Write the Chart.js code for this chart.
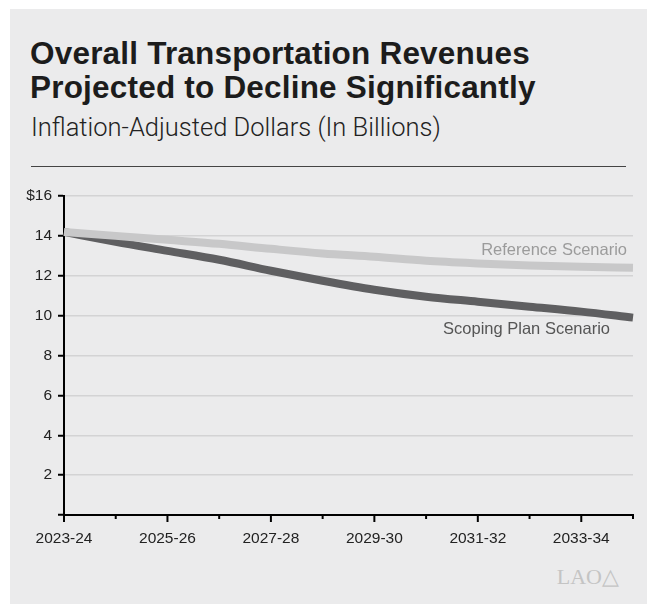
<!DOCTYPE html>
<html lang="en">
<head>
    <meta charset="UTF-8">
    <title>Overall Transportation Revenues</title>
    <style>
        body {
            margin: 0;
            background-color: #fff;
            font-family: 'Liberation Sans', Arial, sans-serif;
        }
        .panel {
            position: absolute;
            left: 10px;
            top: 9px;
            width: 637px;
            height: 595px;
            background-color: #ebebec;
        }
        .title {
            position: absolute;
            left: 20px;
            top: 27px;
            margin: 0;
            font-size: 31.5px;
            font-weight: 700;
            line-height: 34px;
            color: #1c1c1c;
            letter-spacing: 0.2px;
        }
        .subtitle {
            position: absolute;
            left: 21px;
            top: 103px;
            margin: 0;
            font-family: Roboto, 'Liberation Sans', sans-serif;
            font-weight: 300;
            font-size: 25.5px;
            color: #222;
        }
        .rule {
            position: absolute;
            left: 21px;
            top: 157px;
            width: 595px;
            height: 1px;
            background-color: #444;
        }
        .chart-box {
            position: absolute;
            left: 0;
            top: 171px;
            width: 637px;
            height: 380px;
        }
        .logo {
            position: absolute;
            right: 28px;
            bottom: 14px;
            font-family: 'Liberation Serif', serif;
            font-size: 22px;
            color: #c4c4c4;
        }
    </style>
</head>
<body>
    <div class="panel">
        <h1 class="title">Overall Transportation Revenues<br>Projected to Decline Significantly</h1>
        <p class="subtitle">Inflation-Adjusted Dollars (In Billions)</p>
        <div class="rule"></div>
        <div class="chart-box"><canvas id="chart"></canvas></div>
        <div class="logo">LAO&#9651;</div>
    </div>
    <script src="https://cdn.jsdelivr.net/npm/chart.js"></script>
    <script>
        const years = ['2023-24', '2024-25', '2025-26', '2026-27', '2027-28', '2028-29',
            '2029-30', '2030-31', '2031-32', '2032-33', '2033-34', '2034-35'];
        const referenceScenario = [14.2, 14.0, 13.8, 13.6, 13.35, 13.12, 12.95, 12.75, 12.62, 12.52, 12.45, 12.4];
        const scopingPlanScenario = [14.2, 13.7, 13.25, 12.8, 12.25, 11.75, 11.3, 10.95, 10.7, 10.45, 10.2, 9.9];
        const yTicks = [0, 2, 4, 6, 8, 10, 12, 14, 16];

        // tick marks under the x axis, long on labelled years
        const xTickMarks = {
            id: 'xTickMarks',
            afterDraw(chart) {
                const ctx = chart.ctx;
                const x = chart.scales.x;
                const y0 = chart.chartArea.bottom;
                ctx.save();
                ctx.strokeStyle = '#000';
                ctx.lineWidth = 2;
                years.forEach((yr, i) => {
                    const px = x.getPixelForValue(i);
                    const len = i % 2 === 0 ? 7 : 4;
                    ctx.beginPath();
                    ctx.moveTo(px, y0);
                    ctx.lineTo(px, y0 + len);
                    ctx.stroke();
                });
                ctx.restore();
            }
        };

        // series names next to the line ends
        const seriesLabels = {
            id: 'seriesLabels',
            afterDatasetsDraw(chart) {
                const ctx = chart.ctx;
                const right = chart.chartArea.right;
                const last = years.length - 1;
                const refPt = chart.getDatasetMeta(0).data[last];
                const scopPt = chart.getDatasetMeta(1).data[last];
                ctx.save();
                ctx.font = '16.5px "Liberation Sans", Arial, sans-serif';
                ctx.textAlign = 'right';
                ctx.textBaseline = 'middle';
                ctx.fillStyle = '#9b9b9b';
                ctx.fillText('Reference Scenario', right - 6, refPt.y - 17);
                ctx.fillStyle = '#555';
                ctx.fillText('Scoping Plan Scenario', right - 23, scopPt.y + 12);
                ctx.restore();
            }
        };

        new Chart(document.getElementById('chart'), {
            type: 'line',
            data: {
                labels: years,
                datasets: [
                    {
                        label: 'Reference Scenario',
                        data: referenceScenario,
                        borderColor: '#c8c8c9',
                        borderWidth: 8,
                        pointRadius: 0,
                        cubicInterpolationMode: 'monotone',
                        borderCapStyle: 'butt'
                    },
                    {
                        label: 'Scoping Plan Scenario',
                        data: scopingPlanScenario,
                        borderColor: '#5f5f61',
                        borderWidth: 8,
                        pointRadius: 0,
                        cubicInterpolationMode: 'monotone',
                        borderCapStyle: 'butt'
                    }
                ]
            },
            options: {
                responsive: true,
                maintainAspectRatio: false,
                animation: false,
                layout: { padding: { top: 16, right: 14, left: 0, bottom: 0 } },
                plugins: {
                    legend: { display: false },
                    tooltip: { enabled: false }
                },
                scales: {
                    x: {
                        grid: { display: false },
                        border: { color: '#000', width: 2 },
                        ticks: {
                            autoSkip: false,
                            maxRotation: 0,
                            padding: 6,
                            color: '#222',
                            font: { family: "'Liberation Sans', Arial, sans-serif", size: 15.5 },
                            callback: (v, i) => (i % 2 === 0 ? years[i] : '')
                        },
                        afterFit: s => { s.height = 45; }
                    },
                    y: {
                        min: 0,
                        max: 16,
                        afterBuildTicks: s => { s.ticks = yTicks.map(v => ({ value: v })); },
                        grid: {
                            color: c => (c.tick.value === 0 ? 'rgba(0,0,0,0)' : '#d3d3d4'),
                            lineWidth: 1.5,
                            tickColor: '#000',
                            tickWidth: 2,
                            tickLength: 6
                        },
                        border: { color: '#000', width: 2 },
                        ticks: {
                            padding: 6,
                            color: '#222',
                            font: { family: "'Liberation Sans', Arial, sans-serif", size: 15.5 },
                            callback: v => (v === 0 ? '' : v === 16 ? '$16' : String(v))
                        },
                        afterFit: s => { s.width = 54; }
                    }
                }
            },
            plugins: [xTickMarks, seriesLabels]
        });
    </script>
</body>
</html>
